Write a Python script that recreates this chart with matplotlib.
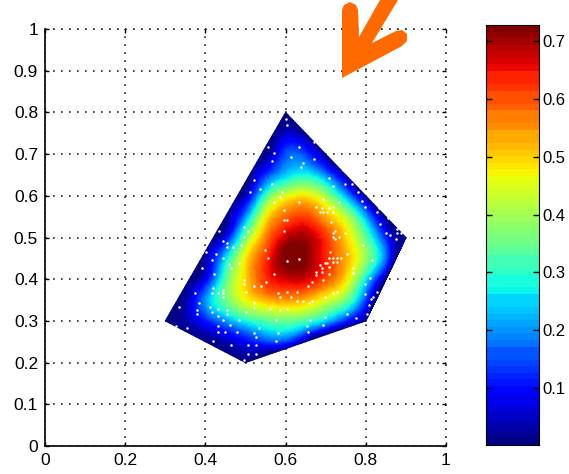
import matplotlib
matplotlib.use("Agg")
from matplotlib import pyplot as plt
from matplotlib.patches import Polygon
import matplotlib.tri as mtri
import numpy as np

plt.rcParams["font.family"] = ["Liberation Sans", "DejaVu Sans"]

# values at points inside the region
inner_x = [.60, .65,
           .55, .60, .65, .70,
           .55, .60, .65, .70, .75,
           .50, .55, .60, .65, .70, .75,
           .50, .55, .60, .65, .70, .75, .80,
           .45, .50, .55, .60, .65, .70, .75, .80, .85,
           .45, .50, .55, .60, .65, .70, .75, .80, .85,
           .40, .45, .50, .55, .60, .65, .70, .75, .80,
           .35, .40, .45, .50, .55, .60, .65, .70, .75, .80,
           .35, .40, .45, .50, .55, .60, .65, .70, .75,
           .45, .50, .55, .60]
inner_y = [.75, .75,
           .70, .70, .70, .70,
           .65, .65, .65, .65, .65,
           .60, .60, .60, .60, .60, .60,
           .55, .55, .55, .55, .55, .55, .55,
           .50, .50, .50, .50, .50, .50, .50, .50, .50,
           .45, .45, .45, .45, .45, .45, .45, .45, .45,
           .40, .40, .40, .40, .40, .40, .40, .40, .40,
           .35, .35, .35, .35, .35, .35, .35, .35, .35, .35,
           .30, .30, .30, .30, .30, .30, .30, .30, .30,
           .25, .25, .25, .25]
inner_v = [.05, .01,
           .01, .15, .14, .01,
           .13, .24, .28, .19, .02,
           .05, .31, .45, .48, .40, .22,
           .20, .47, .58, .61, .53, .42, .22,
           .08, .36, .56, .68, .70, .62, .50, .34, .12,
           .25, .48, .62, .73, .72, .63, .53, .39, .17,
           .08, .33, .50, .62, .67, .67, .60, .49, .27,
           .03, .20, .35, .46, .52, .54, .52, .45, .36, .14,
           .03, .11, .20, .28, .33, .35, .32, .24, .12,
           .04, .09, .14, .14]

# region outline, value is zero along it
edge_x = [.60, .65, .70, .75, .80, .85, .90, .875, .85, .825, .80, .725, .65, .575, .50, .40, .30,
          .33, .36, .39, .42, .45, .48, .51, .54, .57]
edge_y = [.80, .75, .70, .65, .60, .55, .50, .45, .40, .35, .30, .275, .25, .225, .20, .25, .30,
          .35, .40, .45, .50, .55, .60, .65, .70, .75]
edge_v = [0] * len(edge_x)

# white sample points
dots_x = [.600, .604, .672, .557, .572, .634, .614, .567, .671, .644, .638, .742, .520, .709, .567, .718, .535, .510,
          .747, .766, .590, .780, .790, .694, .585, .571, .634, .675, .690, .709, .719, .732, .685, .694, .704, .718,
          .595, .798, .832, .827, .856, .595, .604, .713, .836, .595, .723, .747, .718, .718, .732, .723, .850, .860,
          .877, .877, .887, .875, .497, .435, .507, .397, .497, .445, .455, .455, .488, .468, .794, .402, .426, .416,
          .445, .392, .421, .459, .464, .483, .548, .557, .634, .604, .572, .711, .709, .718, .727, .737, .752, .718,
          .727, .704, .699, .685, .690, .690, .709, .675, .675, .709, .767, .767, .694, .667, .657, .552, .539, .520,
          .497, .497, .502, .581, .604, .629, .586, .614, .629, .644, .658, .667, .718, .727, .699, .815, .811, .798,
          .827, .817, .798, .812, .807, .802, .420, .416, .431, .445, .445, .445, .374, .412, .383, .378, .378, .335,
          .416, .431, .455, .455, .431, .445, .483, .522, .520, .561, .586, .604, .502, .576, .661, .699, .752, .775,
          .653, .657, .694, .432, .462, .355, .326, .431, .449, .478, .534, .520, .525, .581, .420, .464, .507, .525,
          .576, .507, .525, .497]
dots_y = [.784, .770, .730, .716, .702, .716, .692, .684, .688, .679, .670, .661, .638, .642, .629, .624, .616, .610,
          .629, .629, .610, .610, .588, .593, .597, .584, .584, .574, .570, .570, .574, .584, .561, .561, .561, .561,
          .565, .574, .570, .561, .547, .542, .542, .537, .533, .515, .515, .510, .510, .501, .501, .497, .510, .506,
          .520, .510, .510, .497, .525, .515, .515, .501, .501, .492, .487, .478, .483, .478, .483, .465, .460, .446,
          .450, .426, .412, .437, .428, .438, .469, .452, .448, .443, .412, .465, .452, .452, .452, .452, .461, .442,
          .442, .438, .438, .434, .428, .418, .430, .418, .410, .412, .428, .414, .398, .394, .384, .394, .384, .384,
          .398, .389, .370, .366, .370, .370, .357, .357, .348, .348, .342, .348, .366, .370, .357, .445, .402, .389,
          .370, .357, .365, .352, .338, .317, .380, .366, .366, .374, .366, .357, .366, .334, .342, .326, .317, .334,
          .322, .329, .326, .317, .312, .302, .302, .342, .330, .329, .326, .329, .322, .302, .302, .310, .316, .307,
          .288, .274, .290, .288, .290, .284, .288, .274, .274, .274, .284, .270, .261, .270, .252, .242, .242, .242,
          .252, .220, .220, .206]

x_ticks = [0, 0.2, 0.4, 0.6, 0.8, 1]
y_ticks = [0, 0.1, 0.2, 0.3, 0.4, 0.5, 0.6, 0.7, 0.8, 0.9, 1]
y_labels = ["0", "0.1", "0.2", "0.3", "0.4", "0.5", "0.6", "0.7", "0.8", "0.9", "1"]
x_labels = ["0", "0.2", "0.4", "0.6", "0.8", "1"]
cbar_ticks = [0.1, 0.2, 0.3, 0.4, 0.5, 0.6, 0.7]
cbar_min = 0.0014
cbar_max = 0.728

W, H = 569, 474
fig = plt.figure(figsize=(W / 100, H / 100), dpi=100)
ax = fig.add_axes([45 / W, 1 - 446 / H, 401 / W, 417 / H])

cmap = plt.get_cmap("jet", 64)
tri = mtri.Triangulation(inner_x + edge_x, inner_y + edge_y)
refiner = mtri.UniformTriRefiner(tri)
fine_tri, fine_v = refiner.refine_field(np.array(inner_v + edge_v, dtype=float),
                                        subdiv=3)
ax.tripcolor(fine_tri, fine_v, cmap=cmap, vmin=cbar_min, vmax=cbar_max, shading="gouraud", zorder=2)
ax.plot(dots_x, dots_y, ls="none", marker="o", ms=1.8, mfc="white", mec="none", zorder=3)

ax.set_xlim(0, 1)
ax.set_ylim(0, 1)
ax.set_xticks(x_ticks)
ax.set_xticklabels(x_labels, fontsize=12.5)
ax.set_yticks(y_ticks)
ax.set_yticklabels(y_labels, fontsize=12.5)
ax.tick_params(direction="in", length=3, width=1, top=True, right=True, pad=5)
ax.grid(True, color="#222222", lw=1.2, ls=(0, (1, 3.8)), zorder=1)
ax.set_axisbelow(True)
ax.spines["top"].set_visible(False)
ax.spines["right"].set_visible(False)
ax.spines["left"].set_linewidth(1.2)
ax.spines["bottom"].set_linewidth(1.2)
# dotted frame on the open sides
ax.axhline(1, color="#222222", lw=1.2, ls=(0, (1, 3.8)), clip_on=False)
ax.axvline(1, color="#222222", lw=1.2, ls=(0, (1, 3.8)), clip_on=False)

# colorbar
cax = fig.add_axes([486 / W, 1 - 445 / H, 53 / W, 420 / H])
levels = np.linspace(cbar_min, cbar_max, 65)
cax.pcolormesh([0, 1], levels, np.array(levels[:-1]).reshape(-1, 1), cmap=cmap, vmin=cbar_min, vmax=cbar_max)
cax.set_xticks([])
cax.yaxis.tick_right()
cax.set_yticks(cbar_ticks)
cax.set_yticklabels([str(t) for t in cbar_ticks], fontsize=12)
cax.tick_params(direction="in", length=4, width=1, left=True, right=True, pad=2.5)
cax.set_ylim(cbar_min, cbar_max)

# orange arrow, pixel positions on the image
arrow_px = [(342, 78), (342, 10), (344, 5), (350, 2), (356, 5), (358, 10), (359, 37), (380, 0), (398, 0), (372, 43),
            (396, 31), (402, 30), (407, 34), (407, 41), (402, 46), (342, 78)]
arrow = Polygon([(px / W, 1 - py / H) for px, py in arrow_px], transform=fig.transFigure, fc="#FF6A00", ec="none",
                clip_on=False, zorder=10)
fig.add_artist(arrow)

plt.savefig("out.png", dpi=100)
plt.close()
